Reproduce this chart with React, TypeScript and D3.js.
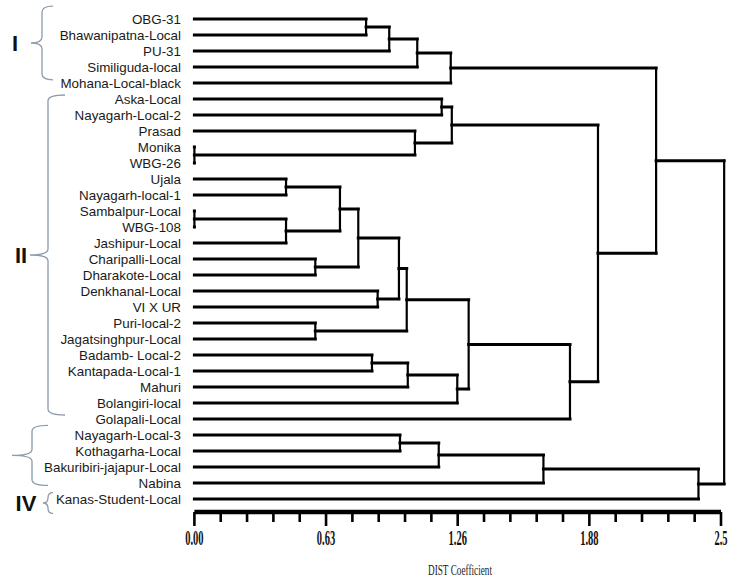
import React from 'react';
import * as d3 from 'd3';

const leaves = [
  'OBG-31', 'Bhawanipatna-Local', 'PU-31', 'Similiguda-local', 'Mohana-Local-black',
  'Aska-Local', 'Nayagarh-Local-2', 'Prasad', 'Monika', 'WBG-26',
  'Ujala', 'Nayagarh-local-1', 'Sambalpur-Local', 'WBG-108', 'Jashipur-Local',
  'Charipalli-Local', 'Dharakote-Local', 'Denkhanal-Local', 'VI X UR', 'Puri-local-2',
  'Jagatsinghpur-Local', 'Badamb- Local-2', 'Kantapada-Local-1', 'Mahuri', 'Bolangiri-local',
  'Golapali-Local', 'Nayagarh-Local-3', 'Kothagarha-Local', 'Bakuribiri-jajapur-Local', 'Nabina',
  'Kanas-Student-Local',
];

// linkage: [childA, childB, distance]; new node ids start at leaves.length
const merges: [number, number, number][] = [
  [8, 9, 0.0],      // 31
  [12, 13, 0.0],    // 32
  [0, 1, 0.815],    // 33
  [33, 2, 0.925],   // 34
  [34, 3, 1.058],   // 35
  [35, 4, 1.217],   // 36
  [5, 6, 1.174],    // 37
  [7, 31, 1.047],   // 38
  [37, 38, 1.222],  // 39
  [10, 11, 0.435],  // 40
  [32, 14, 0.435],  // 41
  [40, 41, 0.691],  // 42
  [15, 16, 0.574],  // 43
  [42, 43, 0.778],  // 44
  [17, 18, 0.87],   // 45
  [44, 45, 0.971],  // 46
  [19, 20, 0.574],  // 47
  [46, 47, 1.008],  // 48
  [21, 22, 0.843],  // 49
  [49, 23, 1.013],  // 50
  [50, 24, 1.248],  // 51
  [48, 51, 1.302],  // 52
  [52, 25, 1.783],  // 53
  [39, 53, 1.916],  // 54
  [36, 54, 2.192],  // 55
  [26, 27, 0.976],  // 56
  [56, 28, 1.16],   // 57
  [57, 29, 1.657],  // 58
  [58, 30, 2.393],  // 59
  [55, 59, 2.515],  // 60
];

const tickValues = [0, 0.625, 1.25, 1.875, 2.5];
const tickLabels = ['0.00', '0.63', '1.26', '1.88', '2.5'];
const minorStep = 0.125;
const axisTitle = 'DIST Coefficient';

const groupNames = ['I', 'II', '', 'IV'];
const groupFrom = [-0.8, 4.75, 25.4, 29.6];
const groupTo = [3.8, 24.75, 29.15, 30.9];

export default function App() {
  const W = 732, H = 581;
  const x = d3.scaleLinear().domain([0, 2.5]).range([194.4, 721]);
  const y = d3.scaleLinear().domain([0, leaves.length - 1]).range([19, 499]);

  const nodeY: number[] = leaves.map((_, i) => y(i));
  const nodeH: number[] = leaves.map(() => 0);
  const hLines: string[] = [];
  const vLines: string[] = [];
  merges.forEach(([a, b, h]) => {
    const ya = nodeY[a], yb = nodeY[b];
    const xh = x(h);
    const p1 = d3.path();
    p1.moveTo(x(nodeH[a]), ya); p1.lineTo(xh, ya);
    p1.moveTo(x(nodeH[b]), yb); p1.lineTo(xh, yb);
    hLines.push(p1.toString());
    const p2 = d3.path();
    p2.moveTo(xh, ya); p2.lineTo(xh, yb);
    vLines.push(p2.toString());
    nodeY.push((ya + yb) / 2);
    nodeH.push(h);
  });

  const braceGeo = [
    { right: 53, vx: 42, tip: 31 },
    { right: 65, vx: 48, tip: 30 },
    { right: 48, vx: 32, tip: 12 },
    { right: 53, vx: 48, tip: 43 },
  ];
  const labelX = [15, 21, 0, 26];

  const braces = groupNames.map((name, i) => {
    const top = y(groupFrom[i]);
    const bot = y(groupTo[i]);
    const mid = (top + bot) / 2;
    const { right, vx, tip } = braceGeo[i];
    const r = Math.min(6, (bot - top) / 4);
    const p = d3.path();
    p.moveTo(right, top);
    p.quadraticCurveTo(vx, top, vx, top + r);
    p.lineTo(vx, mid - r);
    p.quadraticCurveTo(vx, mid, tip, mid);
    p.quadraticCurveTo(vx, mid, vx, mid + r);
    p.lineTo(vx, bot - r);
    p.quadraticCurveTo(vx, bot, right, bot);
    return { d: p.toString(), name, mid, lx: labelX[i] };
  });

  const minorTicks = d3.range(0, 2.5 + 1e-9, minorStep);
  const axisY = 512;

  return (
    <svg width={W} height={H} style={{ position: 'absolute', left: 0, top: 0, background: '#fff' }}>
      <rect x={0} y={0} width={W} height={H} fill="#fff" />
      {braces.map((b, i) => (
        <g key={i}>
          <path d={b.d} fill="none" stroke="#8c9cab" strokeWidth={1.3} />
          {b.name && (
            <text x={b.lx} y={b.mid} dy="0.36em" textAnchor="middle"
              fontFamily="'Liberation Sans', Arial, sans-serif" fontWeight="bold" fontSize={22} fill="#111">
              {b.name}
            </text>
          )}
        </g>
      ))}
      {leaves.map((l, i) => (
        <text key={l} x={181} y={y(i)} dy="0.35em" textAnchor="end"
          fontFamily="'Liberation Sans', Arial, sans-serif" fontSize={13.4} fill="#1a1a1a">
          {l}
        </text>
      ))}
      <g stroke="#000" fill="none" strokeLinecap="square">
        {hLines.map((d, i) => <path key={'h' + i} d={d} strokeWidth={3} />)}
        {vLines.map((d, i) => <path key={'v' + i} d={d} strokeWidth={2.2} />)}
      </g>
      <g stroke="#000">
        <line x1={x(0)} x2={x(2.5)} y1={axisY} y2={axisY} strokeWidth={4.5} />
        {minorTicks.map((t, i) => {
          const major = Math.abs(t / 0.625 - Math.round(t / 0.625)) < 1e-6;
          return (
            <line key={i} x1={x(t)} x2={x(t)} y1={axisY} y2={axisY + (major ? 14 : 10)} strokeWidth={2.6} />
          );
        })}
      </g>
      {tickValues.map((t, i) => (
        <text key={i} x={x(t)} y={545} textAnchor="middle"
          fontFamily="'Liberation Serif', 'Times New Roman', serif" fontWeight="bold" fontSize={21}
          fill="#111" transform={`translate(${x(t)},0) scale(0.5,1) translate(${-x(t)},0)`}>
          {tickLabels[i]}
        </text>
      ))}
      <text x={460} y={575} textAnchor="middle" fontFamily="'Liberation Serif', 'Times New Roman', serif"
        fontSize={14} fill="#222" transform="translate(460,0) scale(0.66,1) translate(-460,0)">
        {axisTitle}
      </text>
    </svg>
  );
}
